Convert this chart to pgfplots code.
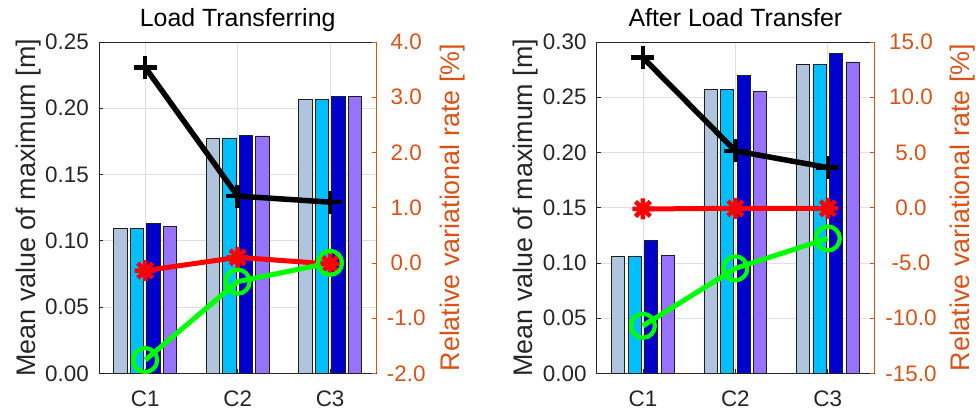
\documentclass[border=0pt]{standalone}
\usepackage{fontspec}
\setmainfont{Liberation Sans}
\usepackage{pgfplots}
\pgfplotsset{compat=1.18}
\definecolor{cA}{RGB}{176,196,222}
\definecolor{cB}{RGB}{0,191,255}
\definecolor{cC}{RGB}{0,0,205}
\definecolor{cD}{RGB}{150,115,250}
\definecolor{oran}{RGB}{217,83,25}
\definecolor{gridc}{RGB}{223,223,223}
\definecolor{axgray}{RGB}{38,38,38}
\definecolor{edgec}{RGB}{30,30,30}
\definecolor{lgreen}{RGB}{0,255,0}

\pgfdeclareplotmark{star8}{%
  \pgfpathmoveto{\pgfqpoint{-\pgfplotmarksize}{0pt}}%
  \pgfpathlineto{\pgfqpoint{\pgfplotmarksize}{0pt}}%
  \pgfpathmoveto{\pgfqpoint{0pt}{-\pgfplotmarksize}}%
  \pgfpathlineto{\pgfqpoint{0pt}{\pgfplotmarksize}}%
  \pgfpathmoveto{\pgfqpoint{-.70710678\pgfplotmarksize}{-.70710678\pgfplotmarksize}}%
  \pgfpathlineto{\pgfqpoint{.70710678\pgfplotmarksize}{.70710678\pgfplotmarksize}}%
  \pgfpathmoveto{\pgfqpoint{-.70710678\pgfplotmarksize}{.70710678\pgfplotmarksize}}%
  \pgfpathlineto{\pgfqpoint{.70710678\pgfplotmarksize}{-.70710678\pgfplotmarksize}}%
  \pgfusepathqstroke}

\pgfplotsset{
  leftax/.style={
    scale only axis, width=277.3bp, height=331.3bp,
    at={(#1,43.7bp)}, anchor=south west,
    xmin=0.5, xmax=3.5, xtick={1,2,3}, xticklabels={C1,C2,C3},
    /pgf/number format/assume math mode=true,
    tick align=inside, ytick pos=left, xtick pos=bottom,
    grid=major, grid style={draw=gridc, line width=0.7bp},
    axis line style={draw=axgray, line width=0.8bp},
    major tick length=4bp, tick style={draw=axgray, line width=0.7bp},
    ticklabel style={font=\fontsize{22.5}{27}\selectfont, text=axgray},
    yticklabel style={anchor=east, inner sep=0pt, xshift=-10bp,
      /pgf/number format/.cd, fixed, fixed zerofill, precision=2},
    xticklabel style={anchor=base, inner sep=0pt, yshift=-33.5bp},
    ylabel={Mean value of maximum [m]},
    ylabel style={at={(axis description cs:-0.23,0.5)}, anchor=base, inner sep=0pt,
      font=\fontsize{27}{32}\selectfont, text=axgray},
    title style={at={(0.5,1)}, anchor=base, inner sep=0pt, yshift=10bp,
      font=\fontsize{25}{30}\selectfont, text=black},
  },
  rightax/.style n args={3}{
    scale only axis, width=277.3bp, height=331.3bp,
    at={(#1,43.7bp)}, anchor=south west,
    xmin=0.5, xmax=3.5,
    axis x line=none, axis y line*=right,
    /pgf/number format/assume math mode=true,
    tick align=inside, major tick length=4bp,
    y axis line style={draw=oran, line width=0.8bp},
    ytick style={draw=oran, line width=0.7bp},
    yticklabel style={font=\fontsize{22.5}{27}\selectfont, text=oran,
      anchor=center, inner sep=0pt, xshift=#2,
      /pgf/number format/.cd, fixed, fixed zerofill, precision=1},
    ylabel={Relative variational rate [\%]},
    ylabel style={at={(axis description cs:#3,0.5)}, anchor=base, inner sep=0pt,
      font=\fontsize{27}{32}\selectfont, text=oran},
    clip=false,
  },
  barA/.style={ybar, bar width=0.143, bar shift=-0.268, fill=cA, draw=edgec, line width=0.8bp},
  barB/.style={ybar, bar width=0.143, bar shift=-0.0895, fill=cB, draw=edgec, line width=0.8bp},
  barC/.style={ybar, bar width=0.143, bar shift=0.0895, fill=cC, draw=edgec, line width=0.8bp},
  barD/.style={ybar, bar width=0.143, bar shift=0.268, fill=cD, draw=edgec, line width=0.8bp},
  lineK/.style={black, line width=5.5bp, mark=+, mark size=11.5bp, mark options={line width=4.5bp}},
  lineR/.style={red, line width=5bp, mark=star8, mark size=10.5bp, mark options={line width=4.5bp}},
  lineG/.style={lgreen, line width=5bp, mark=o, mark size=12bp, mark options={line width=4.2bp}},
}

\begin{document}
\begin{tikzpicture}
\path[use as bounding box] (0,0) rectangle (976bp,417bp);

% ---------------- Panel 1 ----------------
\begin{axis}[leftax=99bp, ymin=0, ymax=0.25,
  ytick={0,0.05,0.10,0.15,0.20,0.25}, title={Load Transferring}]
\addplot[barA] coordinates {(1,0.1090) (2,0.1771) (3,0.2068)};
\addplot[barB] coordinates {(1,0.1090) (2,0.1776) (3,0.2065)};
\addplot[barC] coordinates {(1,0.1128) (2,0.1796) (3,0.2088)};
\addplot[barD] coordinates {(1,0.1108) (2,0.1791) (3,0.2088)};
\end{axis}
\begin{axis}[rightax={99bp}{30bp}{1.299}, ymin=-2, ymax=4, ytick={-2,-1,0,1,2,3,4}]
\addplot[lineK] coordinates {(1,3.54) (2,1.21) (3,1.10)};
\addplot[lineR] coordinates {(1,-0.14) (2,0.10) (3,-0.02)};
\addplot[lineG] coordinates {(1,-1.76) (2,-0.34) (3,0.00)};
\end{axis}

% ---------------- Panel 2 ----------------
\begin{axis}[leftax=596.7bp, ymin=0, ymax=0.30,
  ytick={0,0.05,0.10,0.15,0.20,0.25,0.30}, title={After Load Transfer}]
\addplot[barA] coordinates {(1,0.1058) (2,0.2569) (3,0.2798)};
\addplot[barB] coordinates {(1,0.1058) (2,0.2569) (3,0.2795)};
\addplot[barC] coordinates {(1,0.1203) (2,0.2698) (3,0.2897)};
\addplot[barD] coordinates {(1,0.1070) (2,0.2554) (3,0.2819)};
\end{axis}
\begin{axis}[rightax={596.7bp}{37bp}{1.344}, ymin=-15, ymax=15, ytick={-15,-10,-5,0,5,10,15}]
\addplot[lineK] coordinates {(1,13.58) (2,5.14) (3,3.63)};
\addplot[lineR] coordinates {(1,-0.12) (2,-0.06) (3,-0.06)};
\addplot[lineG] coordinates {(1,-10.70) (2,-5.50) (3,-2.79)};
\end{axis}
\end{tikzpicture}
\end{document}
